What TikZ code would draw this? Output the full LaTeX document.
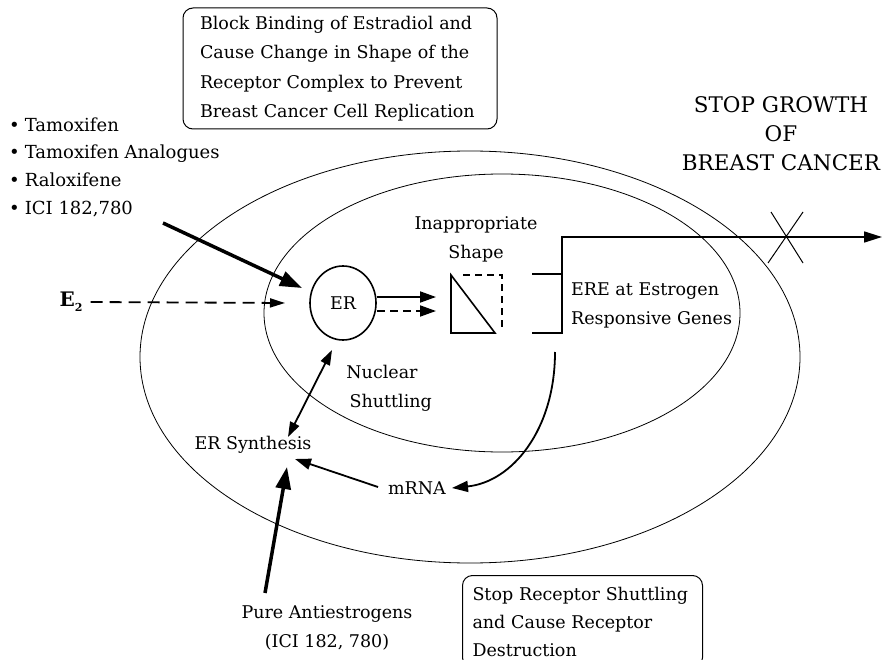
\documentclass[tikz,border=0pt]{standalone}
\usepackage{fontspec}
\setmainfont{DejaVu Serif}
\usetikzlibrary{arrows.meta,shapes.geometric}
\begin{document}
\begin{tikzpicture}[x=1pt,y=-1pt,
  lbl/.style={font=\fontsize{17.5}{29}\selectfont, inner sep=0pt, align=center},
  big/.style={font=\fontsize{21.5}{29}\selectfont, inner sep=0pt, align=center},
  cell/.style={line width=0.8pt},
  roundbox/.style={draw, line width=1pt, rounded corners=10pt, font=\fontsize{17.5}{29.5}\selectfont, align=left},
  thickarrow/.style={-{Triangle[length=22pt,width=15pt]}, line width=3.5pt},
  medarrow/.style={-{Triangle[length=16pt,width=11pt]}, line width=1.8pt},
  dblarrow/.style={{Triangle[length=15pt,width=10pt]}-{Triangle[length=15pt,width=10pt]}, line width=1.8pt},
  solidline/.style={line width=1.6pt}
]
\useasboundingbox (0,0) rectangle (885,660);
\clip (0,0) rectangle (885,660);

% cell and nucleus
\draw[cell] (470,357) ellipse [x radius=330, y radius=206];
\draw[cell] (502,313) ellipse [x radius=238, y radius=139];

% top box
\node[roundbox, minimum width=314pt, minimum height=121pt, text width=280pt, inner xsep=17pt] (blk) at (340,68.5)
  {Block Binding of Estradiol and\\Cause Change in Shape of the\\Receptor Complex to Prevent\\Breast Cancer Cell Replication};

% drugs list
\node[lbl, align=left, anchor=west, font=\fontsize{18}{27.7}\selectfont] (drugs) at (9,167)
  {•\hspace{5pt}Tamoxifen\\•\hspace{5pt}Tamoxifen Analogues\\•\hspace{5pt}Raloxifene\\•\hspace{5pt}ICI 182,780};
\coordinate (drugsend) at (163,223);

% ER
\node[draw, ellipse, line width=1.6pt, minimum width=66pt, minimum height=74pt, inner sep=0pt, font=\fontsize{17.5}{20}\selectfont] (er) at (343,303) {ER};
\coordinate (ertip) at (302,288);

% E2
\node[inner sep=0pt] (e2) at (71,302) {\fontsize{20}{20}\selectfont\bfseries E\raisebox{-0.45ex}{\fontsize{11}{11}\selectfont 2}};
\coordinate (e2tip) at (285,303);
\draw[-{Triangle[length=15pt,width=9pt]}, line width=1.8pt, dash pattern=on 12pt off 7pt] (e2.east) ++(8,0) coordinate (e2start) -- (e2tip);

\draw[thickarrow] (drugsend) -- (ertip);

% inappropriate shape
\node[lbl] (inap) at (476,239) {Inappropriate\\Shape};
\coordinate (triA) at (451,275);
\coordinate (triB) at (451,333);
\coordinate (triC) at (495,333);
\draw[solidline] (triA) -- (triB) -- (triC) -- cycle;
\draw[line width=1.4pt, dash pattern=on 7pt off 5pt] (463,275) -- (502,275) -- (502,330);

\coordinate (a1s) at (377,297);
\coordinate (a1e) at (436,297);
\coordinate (a2s) at (377,311);
\coordinate (a2e) at (436,311);
\draw[medarrow] (a1s) -- (a1e);
\draw[medarrow, dash pattern=on 8pt off 5pt] (a2s) -- (a2e);

% ERE bracket and growth arrow
\coordinate (b1) at (532,274);
\coordinate (b2) at (562,274);
\coordinate (b3) at (532,333);
\coordinate (b4) at (562,333);
\coordinate (b5) at (562,237);
\coordinate (growth) at (882,237);
\draw[solidline] (b1) -- (b2);
\draw[solidline, -{Triangle[length=18pt,width=11pt]}] (b3) -- (b4) -- (b5) -- (growth);
\node[lbl, align=left, anchor=west] (ere) at (571,305) {ERE at Estrogen\\Responsive Genes};

% X mark
\draw[line width=1pt] (771,212) -- (803,263) (803,212) -- (768,263);

\node[big] (stop) at (781,134) {STOP GROWTH\\OF\\BREAST CANCER};

% ER synthesis, mRNA
\node[lbl] (ersyn) at (253,445) {ER Synthesis};
\node[lbl] (mrna) at (417,488) {mRNA};
\node[lbl] (nuc) at (382,388) {Nuclear\\\quad Shuttling};

\coordinate (nucA) at (332,350);
\coordinate (nucB) at (288,437);
\draw[dblarrow] (nucB) -- (nucA);

\coordinate (mrnaS) at (378,487);
\coordinate (synT) at (295,459);
\draw[medarrow] (mrnaS) -- (synT);

\coordinate (ereS) at (555,352);
\coordinate (mrnaT) at (452,488);
\draw[medarrow] (ereS) .. controls (555,430) and (512,482) .. (mrnaT);

% pure antiestrogens
\node[lbl] (pure) at (327,628) {Pure Antiestrogens\\(ICI 182, 780)};
\coordinate (pureS) at (265,593);
\coordinate (pureT) at (287,467);
\draw[thickarrow] (pureS) -- (pureT);

% bottom box
\node[roundbox, anchor=north west, minimum width=240pt, minimum height=92pt, text width=220pt, inner xsep=10pt, inner ysep=4pt, font=\fontsize{17.5}{28}\selectfont] (stopbox) at (462,575)
  {Stop Receptor Shuttling\\and Cause Receptor\\Destruction};
\end{tikzpicture}
\end{document}
